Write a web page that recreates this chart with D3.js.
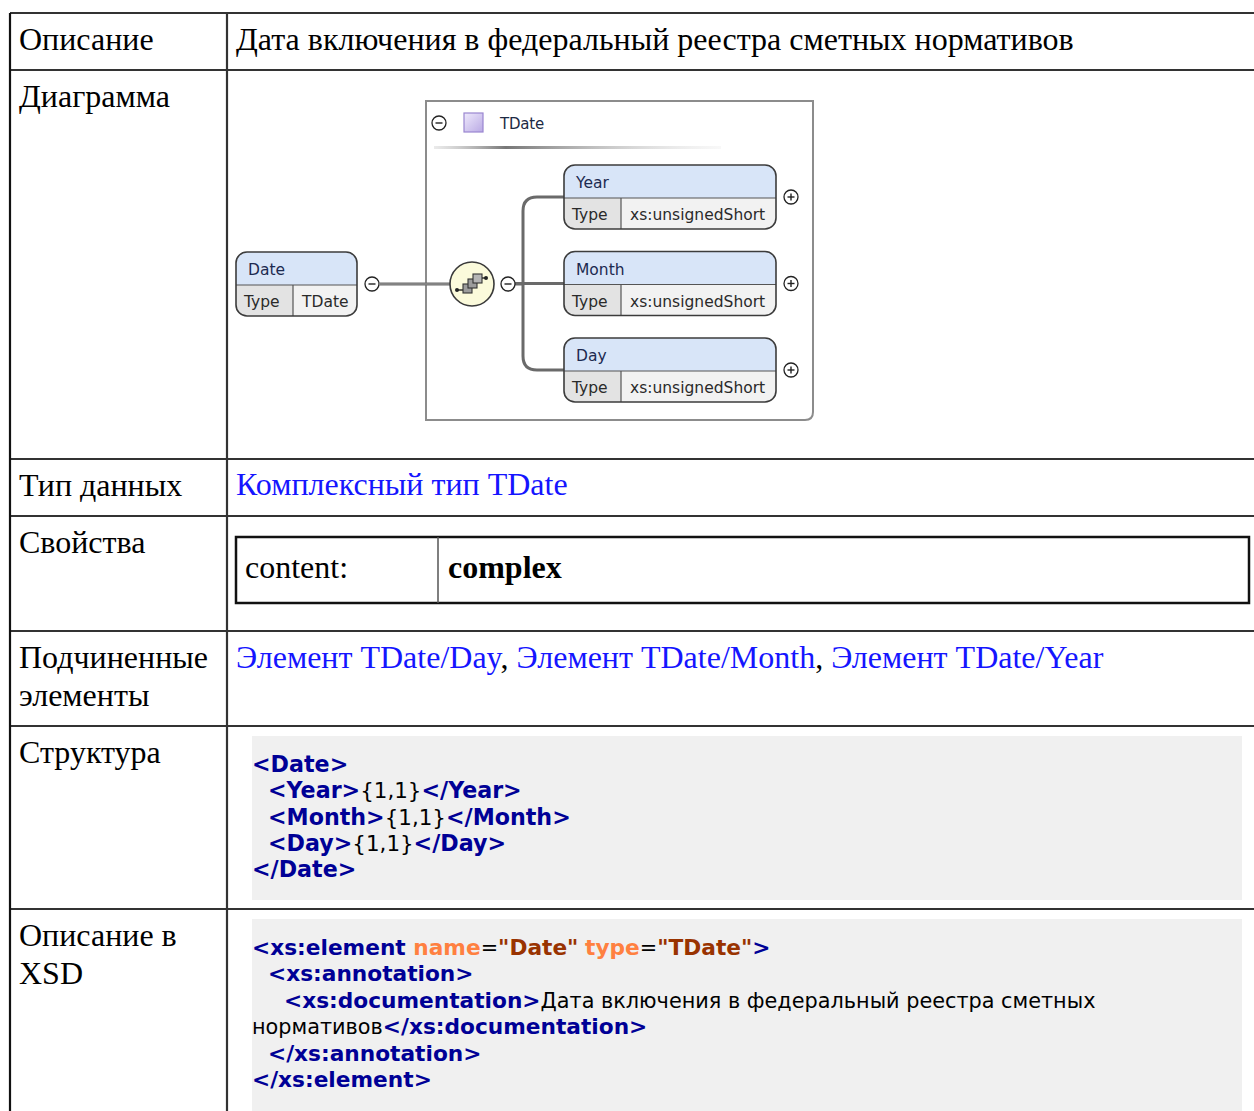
<!DOCTYPE html>
<html><head><meta charset="utf-8">
<script src="https://cdn.jsdelivr.net/npm/d3@7"></script>
<style>
html,body{margin:0;padding:0;background:#fff;overflow:hidden}
svg{display:block}
</style></head>
<body>
<script>
// ---------- data ----------
const rowLabels = [["Описание"],["Диаграмма"],["Тип данных"],["Свойства"],["Подчиненные","элементы"],["Структура"],["Описание в","XSD"]];
const rowEdges = [13, 70, 459, 516, 631, 726, 909, 1140];
const descriptionText = "Дата включения в федеральный реестра сметных нормативов";
const dataTypeLink = "Комплексный тип TDate";
const properties = [["content:", "complex"]];
const childLinks = ["Элемент TDate/Day", "Элемент TDate/Month", "Элемент TDate/Year"];
const rootElement = {name: "Date", type: "TDate"};
const complexTypeName = "TDate";
const childElements = ["Year", "Month", "Day"];
const childTypes = ["xs:unsignedShort", "xs:unsignedShort", "xs:unsignedShort"];
const structureLines = [
  [0, [["<Date>","t"]]],
  [1, [["<Year>","t"],["{1,1}","n"],["</Year>","t"]]],
  [1, [["<Month>","t"],["{1,1}","n"],["</Month>","t"]]],
  [1, [["<Day>","t"],["{1,1}","n"],["</Day>","t"]]],
  [0, [["</Date>","t"]]]
];
const xsdLines = [
  [0, [["<xs:element ","t"],["name","a"],["=","n"],["\"Date\"","v"],[" ","n"],["type","a"],["=","n"],["\"TDate\"","v"],[">","t"]]],
  [1, [["<xs:annotation>","t"]]],
  [2, [["<xs:documentation>","t"],["Дата включения в федеральный реестра сметных","n"]]],
  [0, [["нормативов","n"],["</xs:documentation>","t"]]],
  [1, [["</xs:annotation>","t"]]],
  [0, [["</xs:element>","t"]]]
];

// ---------- setup ----------
const W = 1254, H = 1111;
const svg = d3.select("body").append("svg").attr("width", W).attr("height", H);
const defs = svg.append("defs");
const serif = "'Liberation Serif','Times New Roman',serif";
const diaFont = "'DejaVu Sans',Verdana,sans-serif";
const linkColor = "#1515ff";

const xLeft = 10, xDiv = 227;

// table grid
const grid = svg.append("g").attr("stroke", "#333").attr("stroke-width", 2.2);
rowEdges.slice(0, -1).forEach((e) => {
  grid.append("line").attr("x1", xLeft).attr("x2", W + 5).attr("y1", e).attr("y2", e);
});
grid.append("line").attr("x1", xLeft).attr("x2", xLeft).attr("y1", rowEdges[0]).attr("y2", H + 5).attr("stroke", "#111");
grid.append("line").attr("x1", xDiv).attr("x2", xDiv).attr("y1", rowEdges[0]).attr("y2", H + 5);

// row labels
const labelFont = 32;
rowLabels.forEach((lines, i) => {
  const t = svg.append("text").attr("font-family", serif).attr("font-size", labelFont).attr("fill", "#000");
  lines.forEach((l, j) => {
    t.append("tspan").attr("x", 19).attr("y", rowEdges[i] + 37 + j * 38).text(l);
  });
});

// row 0: description
svg.append("text").attr("x", 236).attr("y", rowEdges[0] + 37)
  .attr("font-family", serif).attr("font-size", labelFont).text(descriptionText);

// row 2: data type link
svg.append("text").attr("x", 236).attr("y", rowEdges[2] + 36)
  .attr("font-family", serif).attr("font-size", labelFont).attr("fill", linkColor).text(dataTypeLink);

// row 3: properties table
const pt = svg.append("g");
properties.forEach((p) => {
  pt.append("rect").attr("x", 236).attr("y", 537).attr("width", 1013).attr("height", 66)
    .attr("fill", "none").attr("stroke", "#111").attr("stroke-width", 2.5);
  pt.append("line").attr("x1", 438).attr("x2", 438).attr("y1", 537).attr("y2", 603).attr("stroke", "#555").attr("stroke-width", 1.5);
  pt.append("text").attr("x", 245).attr("y", 578).attr("font-family", serif).attr("font-size", labelFont).text(p[0]);
  pt.append("text").attr("x", 448).attr("y", 578).attr("font-family", serif).attr("font-size", labelFont).attr("font-weight", "bold").text(p[1]);
});

// row 4: child links
const cl = svg.append("text").attr("x", 236).attr("y", rowEdges[4] + 37)
  .attr("font-family", serif).attr("font-size", labelFont);
childLinks.forEach((c, i) => {
  cl.append("tspan").attr("fill", linkColor).text(c);
  if (i < childLinks.length - 1) cl.append("tspan").attr("fill", "#000").text(", ");
});

// code blocks
const codeColors = {t: "#000096", a: "#ff8040", v: "#993300", n: "#000"};
function codeBlock(lines, box, opt) {
  const g = svg.append("g");
  g.append("rect").attr("x", box.x).attr("y", box.y).attr("width", box.w).attr("height", box.h).attr("fill", "#f0f0f0");
  lines.forEach((ln, i) => {
    const t = g.append("text").attr("x", box.x + ln[0] * opt.indent).attr("y", opt.y0 + i * opt.lh)
      .attr("font-family", opt.family).attr("xml:space", "preserve");
    ln[1].forEach(([s, k]) => {
      t.append("tspan").attr("fill", codeColors[k])
        .attr("font-weight", k === "n" ? "normal" : "bold")
        .attr("font-size", k === "n" ? opt.nsize : opt.size)
        .text(s);
    });
  });
}
codeBlock(structureLines, {x: 252, y: 736, w: 990, h: 164},
  {y0: 772, lh: 26.3, indent: 16, size: 22.2, nsize: 21.4, family: "'DejaVu Sans',Verdana,sans-serif"});
codeBlock(xsdLines, {x: 252, y: 919, w: 990, h: 200},
  {y0: 955, lh: 26.4, indent: 16, size: 21.7, nsize: 20.8, family: "'DejaVu Sans',Verdana,sans-serif"});

// ---------- diagram ----------
const dg = svg.append("g").attr("font-family", diaFont);

// gradients
const hdrGrad = defs.append("linearGradient").attr("id", "hdrline");
hdrGrad.append("stop").attr("offset", "0%").attr("stop-color", "#bbb").attr("stop-opacity", 0.3);
hdrGrad.append("stop").attr("offset", "25%").attr("stop-color", "#777");
hdrGrad.append("stop").attr("offset", "100%").attr("stop-color", "#ddd").attr("stop-opacity", 0.2);
const sqGrad = defs.append("linearGradient").attr("id", "sqg").attr("x1", 0).attr("y1", 0).attr("x2", 1).attr("y2", 1);
sqGrad.append("stop").attr("offset", "0%").attr("stop-color", "#efeafc");
sqGrad.append("stop").attr("offset", "100%").attr("stop-color", "#b9a9e4");

// complex type box
const cb = {x: 426, y: 101, w: 387, h: 319};
dg.append("path")
  .attr("d", `M${cb.x},${cb.y} H${cb.x + cb.w} V${cb.y + cb.h - 8} Q${cb.x + cb.w},${cb.y + cb.h} ${cb.x + cb.w - 8},${cb.y + cb.h} H${cb.x} Z`)
  .attr("fill", "#fff").attr("stroke", "#8c8c8c").attr("stroke-width", 2);
dg.append("rect").attr("x", 434).attr("y", 146).attr("width", 287).attr("height", 3).attr("fill", "url(#hdrline)");

function minusSign(cx, cy) {
  dg.append("circle").attr("cx", cx).attr("cy", cy).attr("r", 7).attr("fill", "#fff").attr("stroke", "#222").attr("stroke-width", 1.3);
  dg.append("line").attr("x1", cx - 3.5).attr("x2", cx + 3.5).attr("y1", cy).attr("y2", cy).attr("stroke", "#222").attr("stroke-width", 1.4);
}
function plusSign(cx, cy) {
  minusSign(cx, cy);
  dg.append("line").attr("x1", cx).attr("x2", cx).attr("y1", cy - 3.5).attr("y2", cy + 3.5).attr("stroke", "#222").attr("stroke-width", 1.4);
}
minusSign(439, 123);
dg.append("rect").attr("x", 464).attr("y", 113).attr("width", 19).attr("height", 19)
  .attr("fill", "url(#sqg)").attr("stroke", "#9a86d0").attr("stroke-width", 1.2);
dg.append("text").attr("x", 500).attr("y", 129).attr("font-size", 15).attr("fill", "#1c2a44")
  .attr("letter-spacing", -0.2).text(complexTypeName);

// element box
function elementBox(x, yTop, w, wType, name, type) {
  const hH = 33, hR = 31, r = 11;
  const g = dg.append("g");
  const h = hH + hR;
  const clipId = "clip" + name + x;
  defs.append("clipPath").attr("id", clipId).append("rect")
    .attr("x", x).attr("y", yTop).attr("width", w).attr("height", h).attr("rx", r);
  const inner = g.append("g").attr("clip-path", `url(#${clipId})`);
  inner.append("rect").attr("x", x).attr("y", yTop).attr("width", w).attr("height", hH).attr("fill", "#d8e5f8");
  inner.append("rect").attr("x", x).attr("y", yTop + hH).attr("width", wType).attr("height", hR).attr("fill", "#e3e3e3");
  inner.append("rect").attr("x", x + wType).attr("y", yTop + hH).attr("width", w - wType).attr("height", hR).attr("fill", "#f2f2f2");
  g.append("line").attr("x1", x).attr("x2", x + w).attr("y1", yTop + hH).attr("y2", yTop + hH).attr("stroke", "#555").attr("stroke-width", 1.2);
  g.append("line").attr("x1", x + wType).attr("x2", x + wType).attr("y1", yTop + hH).attr("y2", yTop + h).attr("stroke", "#555").attr("stroke-width", 1.2);
  g.append("rect").attr("x", x).attr("y", yTop).attr("width", w).attr("height", h).attr("rx", r)
    .attr("fill", "none").attr("stroke", "#3c3c3c").attr("stroke-width", 1.6);
  g.append("text").attr("x", x + 12).attr("y", yTop + 23).attr("font-size", 15.5).attr("fill", "#1c2a50").text(name);
  g.append("text").attr("x", x + 8).attr("y", yTop + hH + 22).attr("font-size", 15.5).attr("fill", "#2a2a2a").text("Type");
  g.append("text").attr("x", x + wType + 9).attr("y", yTop + hH + 22).attr("font-size", 15.5).attr("fill", "#2a2a2a").text(type);
}

const midY = 284;
// root element
elementBox(236, midY - 32, 121, 57, rootElement.name, rootElement.type);
minusSign(372, midY);

// connector root -> sequence
dg.append("line").attr("x1", 379).attr("x2", 451).attr("y1", midY).attr("y2", midY).attr("stroke", "#6a6a6a").attr("stroke-width", 3.2);
dg.append("line").attr("x1", 379).attr("x2", 451).attr("y1", midY).attr("y2", midY).attr("stroke", "#9a9a9a").attr("stroke-width", 1);

// children positions
const cy = d3.scalePoint().domain(childElements).range([197, 370]);
const xBranch = 523, xChild = 564;
const conn = dg.append("g").attr("fill", "none").attr("stroke", "#6a6a6a").attr("stroke-width", 3);
childElements.forEach((c) => {
  const yy = cy(c);
  if (Math.abs(yy - midY) < 1) {
    conn.append("line").attr("x1", 515).attr("x2", xChild).attr("y1", yy).attr("y2", yy);
  } else {
    const s = yy < midY ? 1 : -1;
    conn.append("path").attr("d", `M${xChild},${yy} H${xBranch + 14} Q${xBranch},${yy} ${xBranch},${yy + s * 14} V${midY}`);
  }
});
conn.append("line").attr("x1", 515).attr("x2", xBranch).attr("y1", midY).attr("y2", midY);

// sequence compositor
dg.append("circle").attr("cx", 472).attr("cy", midY).attr("r", 22).attr("fill", "#fbfadb").attr("stroke", "#3a3a3a").attr("stroke-width", 1.6);
const ic = dg.append("g").attr("transform", `translate(472,${midY})`);
ic.append("line").attr("x1", -15).attr("x2", -7).attr("y1", 6).attr("y2", 6).attr("stroke", "#222").attr("stroke-width", 1.4);
ic.append("line").attr("x1", 7).attr("x2", 14).attr("y1", -6).attr("y2", -6).attr("stroke", "#222").attr("stroke-width", 1.4);
ic.append("circle").attr("cx", -15).attr("cy", 6).attr("r", 2).attr("fill", "#222");
ic.append("circle").attr("cx", 14).attr("cy", -6).attr("r", 2).attr("fill", "#222");
[[-9, 0], [-4, -5], [1, -10]].forEach(([dx, dy], i) => {
  ic.append("rect").attr("x", dx).attr("y", dy).attr("width", 9).attr("height", 9)
    .attr("fill", i === 2 ? "#b5b5b5" : "#9c9c9c").attr("stroke", "#333").attr("stroke-width", 1.1);
});
minusSign(508, midY);

// child elements
childElements.forEach((c, i) => {
  const yy = cy(c);
  elementBox(xChild, yy - 32, 212, 57, c, childTypes[i]);
  plusSign(791, yy);
});
</script>
</body></html>
